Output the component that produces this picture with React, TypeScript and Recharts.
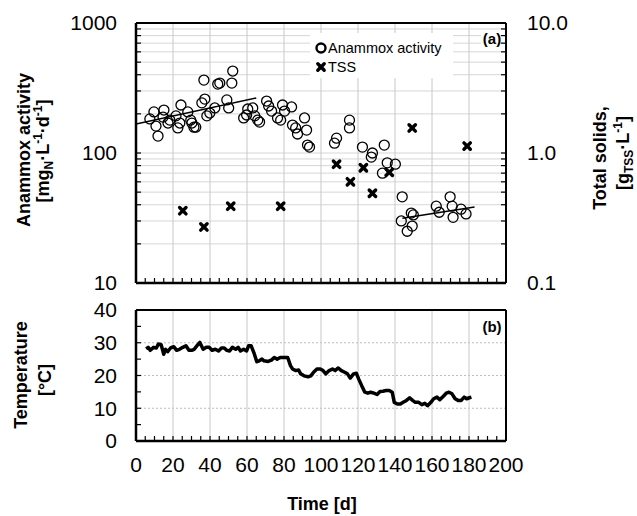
import { ComposedChart, Line, Scatter, XAxis, YAxis, ReferenceLine, Legend } from 'recharts';

const FONT = '"Liberation Sans", Arial, sans-serif';

// (a) anammox activity, mgN/L/d
const activityDays = [7.5, 9.7, 10.8, 11.9, 14.6, 15.1, 17.3, 18.3, 21.6, 22.6, 23.7, 24.3, 28, 29.6, 30.2, 31.3, 32.3, 35.6, 36.7, 37.2, 38.3, 39.9, 42.6, 44.2, 45.3, 49.1, 50.1, 51.8, 52.3, 58.2, 59.8, 60.4, 63.1, 64.2, 65.8, 66.8, 70.6, 71.7, 73.3, 76.5, 78.2, 79.2, 80.3, 84.1, 84.6, 86.3, 87.3, 91.1, 92.2, 92.7, 93.8, 107.3, 108.4, 115.4, 115.4, 122.4, 127.8, 127.2, 134.2, 135.8, 140.2, 133.2, 143.9, 143.4, 146.6, 148.8, 149.3, 149.9, 162.3, 163.9, 169.8, 170.9, 171.4, 175.7, 178.4];
const activityValues = [183, 207, 161, 135, 189, 214, 170, 179, 193, 156, 170, 234, 207, 179, 170, 158, 158, 243, 364, 260, 193, 203, 222, 339, 345, 256, 222, 345, 427, 186, 196, 218, 222, 193, 179, 173, 251, 230, 210, 186, 179, 234, 210, 226, 164, 156, 140, 186, 150, 115, 111, 119, 130, 179, 156, 111, 100, 93, 115, 84, 82, 70, 46, 30, 25, 34.5, 27.4, 33.4, 39, 35, 46, 39, 32, 37, 34];

// trend lines
const fitEarlyDays = [0, 65];
const fitEarlyValues = [167, 265];
const fitLateDays = [144, 183];
const fitLateValues = [31.5, 38.5];

// TSS, g/L
const tssDays = [25.3, 36.7, 51.2, 78.2, 108.4, 115.9, 122.9, 127.8, 136.9, 149.3, 179];
const tssValues = [0.36, 0.27, 0.39, 0.39, 0.82, 0.6, 0.77, 0.49, 0.71, 1.56, 1.13];

// (b) temperature
const tempDays = [5.5, 6.6, 7.7, 9.5, 11, 12.1, 13.6, 15, 16, 17.1, 18.7, 20.4, 22, 23.5, 25.3, 27, 28.6, 30.1, 31.4, 33, 34.5, 36.3, 38, 39.6, 41.1, 42.9, 44.6, 46.2, 47.7, 49, 50.6, 52.1, 53.9, 55.2, 56.5, 58.2, 59.8, 60.9, 62.2, 63.7, 65.3, 66.6, 68.1, 69.2, 71.4, 73.2, 74.7, 76.3, 78, 80.2, 82, 83.5, 84.6, 86.4, 87.9, 89, 90.8, 93, 94.5, 96, 97.8, 99.6, 101.1, 102.6, 104.4, 106.2, 107.7, 109.2, 111, 112.8, 114.3, 115.8, 117.6, 119.1, 120.4, 122, 123.7, 125.3, 126.8, 128.6, 130.3, 131.9, 133.4, 135.2, 136.9, 138.5, 139.6, 141.3, 142.9, 144.4, 146.2, 147.9, 149.5, 151, 152.8, 154.5, 156.1, 157.6, 159.4, 160.9, 162.7, 164.2, 166, 167.7, 169.2, 170.8, 172.5, 174.1, 175.8, 177.4, 178.7, 180.2, 181.3];
const tempValues = [28.1, 28.6, 27.7, 28.6, 28.4, 29.6, 29.4, 26.5, 28, 27.3, 28.4, 28.8, 27.7, 28, 28.6, 29.1, 27.7, 27.7, 28, 29.1, 30.1, 28, 28.6, 28.6, 27.7, 28, 27.5, 28.4, 28.4, 27.7, 27.5, 28.6, 28, 28.6, 27.5, 28, 27.5, 29.1, 29.1, 27, 24.2, 24.5, 25, 24.5, 24.3, 24.7, 25.5, 25, 25.5, 25.5, 25.5, 23, 22, 21.5, 21.7, 20.5, 19.9, 19.6, 19.9, 21, 22, 22, 21.5, 20.5, 21.5, 22, 21.5, 22.3, 21.5, 21, 20.5, 19.2, 20.5, 20.7, 18.9, 16.9, 14.9, 14.6, 14.9, 14.6, 14.2, 15.1, 15.2, 15.4, 15.4, 14.9, 11.8, 11.3, 11.3, 11.8, 12.4, 13.2, 12.4, 11.8, 11.8, 11.1, 11.5, 10.8, 11.8, 12.9, 13.4, 12.6, 13.6, 14.6, 14.9, 14.4, 12.9, 12.4, 12.4, 13.4, 12.9, 13.2, 13.4];

// ticks
const timeTicks = Array.from({ length: 41 }, (_, i) => i * 5);
const timeGrid = [20, 40, 60, 80, 100, 120, 140, 160, 180];
const activityTicks = [10, 20, 30, 40, 50, 60, 70, 80, 90, 100, 200, 300, 400, 500, 600, 700, 800, 900, 1000];
const activityGrid = [20, 30, 40, 50, 60, 70, 80, 90, 100, 200, 300, 400, 500, 600, 700, 800, 900];
const tssTicks = [0.1, 0.2, 0.3, 0.4, 0.5, 0.6, 0.7, 0.8, 0.9, 1, 2, 3, 4, 5, 6, 7, 8, 9, 10];
const tempTicks = [0, 5, 10, 15, 20, 25, 30, 35, 40];
const tempGrid = [10, 20, 30];

const zip = (xs: number[], ys: number[]) => xs.map((t, i) => ({ t, v: ys[i] }));

const activity = zip(activityDays, activityValues);
const tss = zip(tssDays, tssValues);
const fitEarly = zip(fitEarlyDays, fitEarlyValues);
const fitLate = zip(fitLateDays, fitLateValues);
const temperature = zip(tempDays, tempValues);

const tickStyle = { fill: '#000', fontSize: 21, fontFamily: FONT };
const axisLine = { stroke: '#000', strokeWidth: 2.5 };
const tickLine = { stroke: '#000', strokeWidth: 1.2 };

const Circle = (props: any) => (
  <circle cx={props.cx} cy={props.cy} r={5} fill="none" stroke="#000" strokeWidth={1.3} />
);

const Cross = (props: any) => {
  const { cx, cy } = props;
  return (
    <g stroke="#000" strokeWidth={3.4} strokeLinecap="round">
      <line x1={cx - 3.2} y1={cy - 3.2} x2={cx + 3.2} y2={cy + 3.2} />
      <line x1={cx - 3.2} y1={cy + 3.2} x2={cx + 3.2} y2={cy - 3.2} />
    </g>
  );
};

const renderLegend = () => (
  <div style={{ width: 143, height: 45, background: '#fff' }}>
    <svg width={143} height={45}>
      <circle cx={11} cy={15} r={4.5} fill="none" stroke="#000" strokeWidth={2.4} />
      <text x={18} y={20} fontSize={14.5} fontFamily={FONT} fill="#000">Anammox activity</text>
      <Cross cx={11} cy={34} />
      <text x={18} y={39} fontSize={14.5} fontFamily={FONT} fill="#000">TSS</text>
    </svg>
  </div>
);

const App = () => {
  return (
    <div style={{ position: 'absolute', left: 0, top: 0, width: 637, height: 516, background: '#fff', fontFamily: FONT }}>
      <div style={{ position: 'absolute', left: 0, top: 0 }}>
        <ComposedChart width={637} height={300} margin={{ top: 22, right: 130, bottom: 16, left: 135 }}>
          <XAxis xAxisId="t" type="number" dataKey="t" domain={[0, 200]} ticks={timeTicks} interval={0}
            tickFormatter={() => ''} tickSize={-5} height={1} axisLine={axisLine} tickLine={tickLine} allowDataOverflow />
          <XAxis xAxisId="frame" orientation="top" type="number" domain={[0, 200]} tick={false} tickLine={false}
            height={1} axisLine={{ stroke: '#000', strokeWidth: 2 }} />
          <YAxis yAxisId="act" type="number" scale="log" dataKey="v" domain={[10, 1000]} ticks={activityTicks} interval={0}
            tickFormatter={(v: number) => ([10, 100, 1000].includes(v) ? String(v) : '')}
            tickSize={-5} tickMargin={24} width={1} tick={tickStyle} axisLine={axisLine} tickLine={tickLine} allowDataOverflow />
          <YAxis yAxisId="tss" orientation="right" type="number" scale="log" dataKey="v" domain={[0.1, 10]} ticks={tssTicks} interval={0}
            tickFormatter={(v: number) => (v === 0.1 ? '0.1' : v === 1 ? '1.0' : v === 10 ? '10.0' : '')}
            tickSize={-5} tickMargin={26} width={1} tick={tickStyle} axisLine={{ stroke: '#000', strokeWidth: 2 }} tickLine={tickLine} allowDataOverflow />

          {activityGrid.map((v) => (
            <ReferenceLine key={'h' + v} xAxisId="t" yAxisId="act" y={v} stroke="#d6d6d6" strokeWidth={1} />
          ))}
          {timeGrid.map((d) => (
            <ReferenceLine key={'v' + d} xAxisId="t" yAxisId="act" x={d} stroke="#c8c8c8" strokeWidth={1} />
          ))}

          <Legend content={renderLegend} layout="horizontal" verticalAlign="middle" align="center"
            wrapperStyle={{ position: 'absolute', left: 310, top: 33, width: 143, height: 45 }} />

          <Scatter name="Anammox activity" data={activity} xAxisId="t" yAxisId="act" dataKey="v" shape={Circle} isAnimationActive={false} />
          <Scatter name="TSS" data={tss} xAxisId="t" yAxisId="tss" dataKey="v" shape={Cross} isAnimationActive={false} />
          <Line data={fitEarly} xAxisId="t" yAxisId="act" dataKey="v" stroke="#000" strokeWidth={1.5} dot={false} isAnimationActive={false} legendType="none" />
          <Line data={fitLate} xAxisId="t" yAxisId="act" dataKey="v" stroke="#000" strokeWidth={1.5} dot={false} isAnimationActive={false} legendType="none" />
        </ComposedChart>
      </div>

      <div style={{ position: 'absolute', left: 0, top: 290 }}>
        <ComposedChart width={637} height={200} data={temperature} margin={{ top: 19, right: 130, bottom: 48, left: 135 }}>
          <XAxis xAxisId="t" type="number" dataKey="t" domain={[0, 200]} ticks={timeTicks} interval={0}
            tickFormatter={(v: number) => (v % 20 === 0 ? String(v) : '')}
            tickSize={-5} tickMargin={21} height={1} tick={tickStyle} axisLine={axisLine} tickLine={tickLine} allowDataOverflow />
          <XAxis xAxisId="frame" orientation="top" type="number" domain={[0, 200]} tick={false} tickLine={false}
            height={1} axisLine={{ stroke: '#000', strokeWidth: 2 }} />
          <YAxis yAxisId="temp" type="number" dataKey="v" domain={[0, 40]} ticks={tempTicks} interval={0}
            tickFormatter={(v: number) => (v % 10 === 0 ? String(v) : '')}
            tickSize={-5} tickMargin={24} width={1} tick={tickStyle} axisLine={axisLine} tickLine={tickLine} allowDataOverflow />
          <YAxis yAxisId="right" orientation="right" type="number" domain={[0, 40]} tick={false} tickLine={false}
            width={1} axisLine={{ stroke: '#000', strokeWidth: 2 }} />

          {tempGrid.map((v) => (
            <ReferenceLine key={'h' + v} xAxisId="t" yAxisId="temp" y={v} stroke="#bdbdbd" strokeWidth={1} strokeDasharray="2 2" />
          ))}
          {timeGrid.map((d) => (
            <ReferenceLine key={'v' + d} xAxisId="t" yAxisId="temp" x={d} stroke="#c8c8c8" strokeWidth={1} />
          ))}

          <Line xAxisId="t" yAxisId="temp" dataKey="v" type="linear" stroke="#000" strokeWidth={3.5} strokeLinejoin="round"
            dot={false} isAnimationActive={false} />
        </ComposedChart>
      </div>

      <svg width={637} height={516} style={{ position: 'absolute', left: 0, top: 0, pointerEvents: 'none' }}>
        <g fontFamily={FONT} fontWeight="bold" fontSize={18} fill="#000" textAnchor="middle">
          <text transform="translate(30,150) rotate(-90)">Anammox activity</text>
          <text transform="translate(49,151) rotate(-90)">
            [mg<tspan fontSize={12} dy={4}>N</tspan>
            <tspan dy={-4}>·L</tspan>
            <tspan fontSize={12} dy={-7}>-1</tspan>
            <tspan dy={7}>·d</tspan>
            <tspan fontSize={12} dy={-7}>-1</tspan>
            <tspan dy={7}>]</tspan>
          </text>
          <text transform="translate(606,158) rotate(-90)">Total solids,</text>
          <text transform="translate(629,153) rotate(-90)">
            [g<tspan fontSize={12} dy={4}>TSS</tspan>
            <tspan dy={-4}>·L</tspan>
            <tspan fontSize={12} dy={-7}>-1</tspan>
            <tspan dy={7}>]</tspan>
          </text>
          <text transform="translate(27,375) rotate(-90)">Temperature</text>
          <text transform="translate(51,380) rotate(-90)">[°C]</text>
          <text x={322} y={510}>Time [d]</text>
        </g>
        <rect x={481} y={31} width={19} height={16} fill="#fff" />
        <text x={492} y={44} fontFamily={FONT} fontWeight="bold" fontSize={15} textAnchor="middle">(a)</text>
        <text x={492} y={332} fontFamily={FONT} fontWeight="bold" fontSize={15} textAnchor="middle">(b)</text>
      </svg>
    </div>
  );
};

export default App;
